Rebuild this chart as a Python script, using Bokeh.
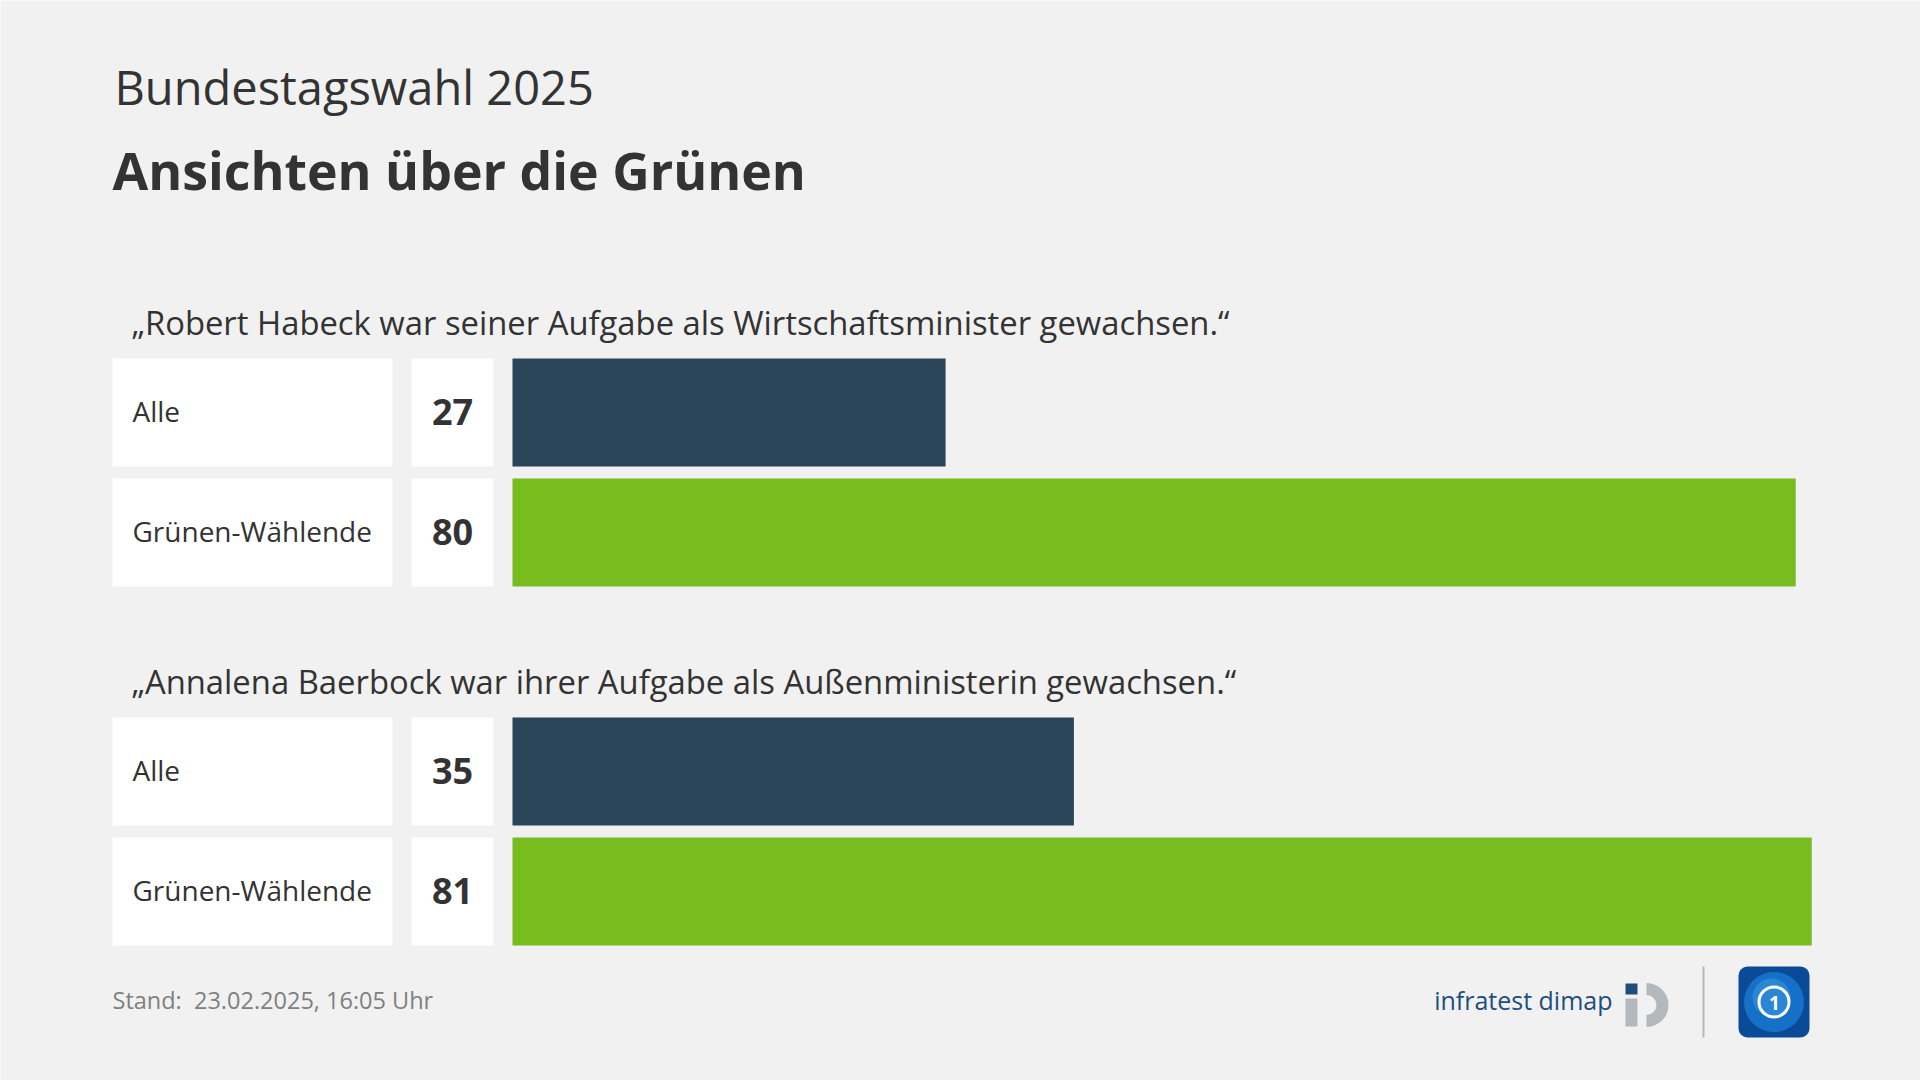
from bokeh.plotting import figure
from bokeh.models import Range1d
from bokeh.core.properties import value
from bokeh.embed import file_html
from bokeh.resources import INLINE

# ---------------- data ----------------
subtitle = "Bundestagswahl 2025"
title = "Ansichten über die Grünen"
questions = [
    "„Robert Habeck war seiner Aufgabe als Wirtschaftsminister gewachsen.“",
    "„Annalena Baerbock war ihrer Aufgabe als Außenministerin gewachsen.“",
]
groups = ["Alle", "Grünen-Wählende"]
habeck = [27, 80]
baerbock = [35, 81]
footer = "Stand:\u00a0 23.02.2025, 16:05 Uhr"
source = "infratest dimap"

# ---------------- style / layout ----------------
BG = "#f1f1f1"
TXT = "#333333"
BAR_COLORS = ["#2a4558", "#78bc1e"]
FONT = value("Open Sans")
W, H = 1920, 1080
PX_PER_UNIT = 16.04
BAR_X0 = 512  # pixel of value 0


def xd(px):
    """pixel -> data x"""
    return (px - BAR_X0) / PX_PER_UNIT


def base(y, size):
    """place text so that its baseline lands at pixel y"""
    return y - 0.4 * size


p = figure(width=W, height=H, output_backend="svg", toolbar_location=None,
           x_range=Range1d(xd(0), xd(W)), y_range=Range1d(H, 0),
           x_axis_type=None, y_axis_type=None, min_border=0,
           background_fill_color=BG, border_fill_color=BG,
           outline_line_color=None)
p.grid.visible = False

# titles
p.text(x=[xd(114)], y=[base(105, 47)], text=[subtitle], text_font=FONT,
       text_font_size="47px", text_color=TXT, text_baseline="alphabetic")
p.text(x=[xd(112)], y=[base(190, 51.8)], text=[title], text_font=FONT,
       text_font_size="51.8px", text_font_style="bold", text_color=TXT,
       text_baseline="alphabetic")

ROW_H = 108
ROW_STEP = 120
GROUP_STEP = 359
FIRST_TOP = 358

rows_y, rows_v, rows_c, rows_lbl = [], [], [], []
for qi, (q, vals) in enumerate(zip(questions, [habeck, baerbock])):
    top0 = FIRST_TOP + qi * GROUP_STEP
    p.text(x=[xd(131)], y=[base(top0 - 23, 32.8)], text=[q], text_font=FONT,
           text_font_size="32.8px", text_color=TXT, text_baseline="alphabetic")
    for gi, (g, v) in enumerate(zip(groups, vals)):
        c = top0 + gi * ROW_STEP + ROW_H / 2
        rows_y.append(c)
        rows_v.append(v)
        rows_c.append(BAR_COLORS[gi])
        rows_lbl.append(g)

tops = [c - ROW_H / 2 for c in rows_y]
bots = [c + ROW_H / 2 for c in rows_y]

# white label boxes and value boxes
p.quad(left=xd(112), right=xd(392), top=tops, bottom=bots,
       fill_color="white", line_color=None)
p.quad(left=xd(411), right=xd(493), top=tops, bottom=bots,
       fill_color="white", line_color=None)

# bars
p.hbar(y=rows_y, left=0, right=rows_v, height=ROW_H, fill_color=rows_c,
       line_color=None)

# labels and values
p.text(x=xd(132), y=[base(c + 10, 28) for c in rows_y], text=rows_lbl,
       text_font=FONT, text_font_size="28px", text_color=TXT,
       text_baseline="alphabetic")
p.text(x=xd(452), y=[base(c + 14, 36) for c in rows_y],
       text=[str(v) for v in rows_v],
       text_font=FONT, text_font_size="36px", text_font_style="bold",
       text_color=TXT, text_align="center", text_baseline="alphabetic")

# footer
p.text(x=[xd(112)], y=[base(1009, 23.5)], text=[footer], text_font=FONT,
       text_font_size="23.5px", text_color="#808080", text_baseline="alphabetic")

# infratest dimap logo
p.text(x=[xd(1612)], y=[base(1009, 25)], text=[source], text_font=FONT,
       text_font_size="25px", text_color="#1d4e7e", text_align="right",
       text_baseline="alphabetic")
p.quad(left=xd(1625), right=xd(1637), top=983, bottom=994,
       fill_color="#1d4e7e", line_color=None)
p.quad(left=xd(1625), right=xd(1637), top=998, bottom=1026,
       fill_color="#b3b8bd", line_color=None)
p.annular_wedge(x=[xd(1646)], y=[1004.5], inner_radius=10, outer_radius=22,
                inner_radius_units="screen", outer_radius_units="screen",
                start_angle=-1.5708, end_angle=1.5708,
                fill_color="#b3b8bd", line_color=None)

# separator
p.segment(x0=[xd(1703)], x1=[xd(1703)], y0=[966], y1=[1037],
          line_color="#b8b8b8", line_width=2)

# tagesschau logo
p.quad(left=xd(1738), right=xd(1809), top=966, bottom=1037,
       fill_color="#0a4b98", line_color=None, border_radius=9)
p.scatter(x=[xd(1773.5)], y=[1001.5], size=60, marker="circle",
          fill_color="#1670c8", line_color=None)
p.scatter(x=[xd(1771)], y=[997], size=38, marker="circle",
          fill_color="#3b95e0", fill_alpha=0.6, line_color=None)
p.scatter(x=[xd(1773.5)], y=[1001.5], size=30, marker="circle",
          fill_color=None, line_color="white", line_width=3)
p.text(x=[xd(1774)], y=[1002], text=["1"], text_font=FONT,
       text_font_size="19px", text_font_style="bold", text_color="white",
       text_align="center", text_baseline="middle")

open("out.html", "w").write(file_html(p, INLINE))
